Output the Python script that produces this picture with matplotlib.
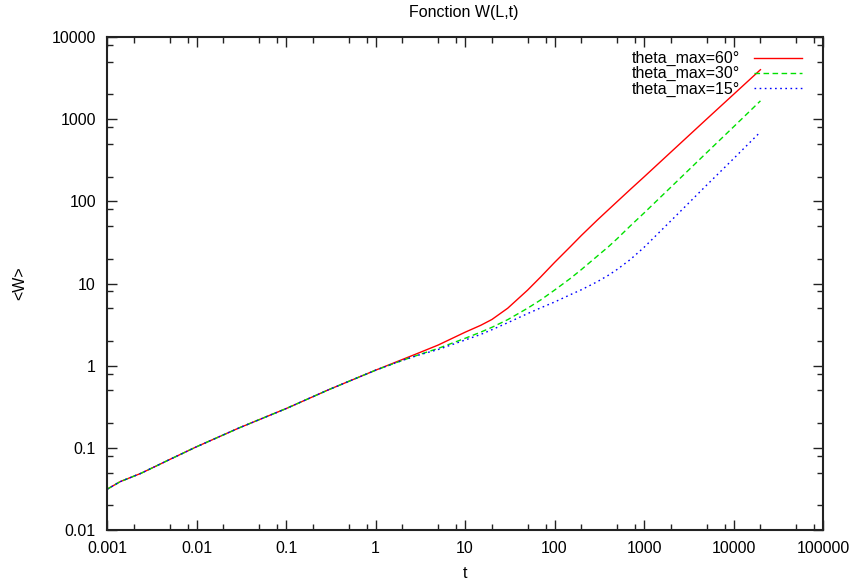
#log-log plot of the roughness W(L,t) for three values of theta_max

#imports
import matplotlib
matplotlib.use('Agg')
import matplotlib.pyplot as plt
from matplotlib.ticker import LogLocator, NullFormatter, FixedLocator, FixedFormatter

plt.rcParams['font.family'] = ['Liberation Sans', 'DejaVu Sans']
plt.rcParams['font.size'] = 11.5

#values
t = [0.001, 0.0014, 0.0024, 0.005, 0.01, 0.03, 0.1, 0.3, 1, 2, 3, 5, 10, 15, 20, 30, 50, 70,
     100, 150, 200, 300, 400, 500, 700, 1000, 2000, 5000, 10000, 20000]
w_60 = [0.0313, 0.0387, 0.049, 0.072, 0.103, 0.175, 0.30, 0.51, 0.88, 1.19, 1.42, 1.78, 2.55,
        3.1, 3.65, 5.0, 8.3, 12.0, 18.0, 28.0, 38.5, 59, 79, 99, 139, 198, 398, 1000, 2000, 4000]
w_30 = [0.0313, 0.0387, 0.049, 0.072, 0.103, 0.175, 0.30, 0.51, 0.88, 1.16, 1.35, 1.62, 2.15,
        2.56, 2.93, 3.63, 5.0, 6.3, 8.3, 11.5, 14.8, 21.5, 28, 35, 50, 72, 149, 390, 805, 1670]
w_15 = [0.0313, 0.0387, 0.049, 0.072, 0.103, 0.175, 0.30, 0.51, 0.88, 1.16, 1.34, 1.57, 2.05,
        2.4, 2.74, 3.33, 4.3, 5.05, 5.95, 7.3, 8.4, 10.5, 12.6, 14.8, 19.5, 27.5, 58, 157, 330, 700]

xticks = [0.001, 0.01, 0.1, 1, 10, 100, 1000, 10000, 100000]
xlabels = ['0.001', '0.01', '0.1', '1', '10', '100', '1000', '10000', '100000']
yticks = [0.01, 0.1, 1, 10, 100, 1000, 10000]
ylabels = ['0.01', '0.1', '1', '10', '100', '1000', '10000']

fig = plt.figure(figsize=(8.52, 5.79), dpi=100)
ax = fig.add_axes([107/852, 1-530/579, (823-107)/852, (530-37)/579])

ax.plot(t, w_60, color='#ff0000', lw=1, label='theta_max=60°')
ax.plot(t, w_30, color='#00e000', lw=1, ls=(0, (4, 2.5)), label='theta_max=30°')
ax.plot(t, w_15, color='#0000ff', lw=1, ls=(0, (1.2, 2.5)), label='theta_max=15°')

ax.set_xscale('log')
ax.set_yscale('log')
ax.set_xlim(0.001, 100000)
ax.set_ylim(0.01, 10000)

#gnuplot style ticks: inside, mirrored, minor at 2 5 8
ax.xaxis.set_major_locator(FixedLocator(xticks))
ax.xaxis.set_major_formatter(FixedFormatter(xlabels))
ax.yaxis.set_major_locator(FixedLocator(yticks))
ax.yaxis.set_major_formatter(FixedFormatter(ylabels))
ax.xaxis.set_minor_locator(LogLocator(base=10, subs=(2, 5, 8), numticks=20))
ax.yaxis.set_minor_locator(LogLocator(base=10, subs=(2, 5, 8), numticks=20))
ax.xaxis.set_minor_formatter(NullFormatter())
ax.yaxis.set_minor_formatter(NullFormatter())
ax.tick_params(which='both', direction='in', top=True, right=True, width=1, color='#222222')
ax.tick_params(which='major', length=7, pad=8, labelsize=11.5)
ax.tick_params(which='minor', length=4)
for s in ax.spines.values():
    s.set_linewidth(1.5)
    s.set_color('#222222')

ax.legend(loc='upper right', bbox_to_anchor=(1-10/716, 1-3/493), frameon=False,
          markerfirst=False, handlelength=3.0, handletextpad=0.9, labelspacing=0.0,
          borderaxespad=0.3, fontsize=11.5)

fig.text(464/852, 1-13/579, 'Fonction W(L,t)', ha='center', va='center', fontsize=11.5)
fig.text(465/852, 1-573/579, 't', ha='center', va='center', fontsize=11.5)
fig.text(20/852, 1-283/579, '<W>', ha='center', va='center', rotation=90, fontsize=11.5)

plt.savefig('out.png', dpi=100)
